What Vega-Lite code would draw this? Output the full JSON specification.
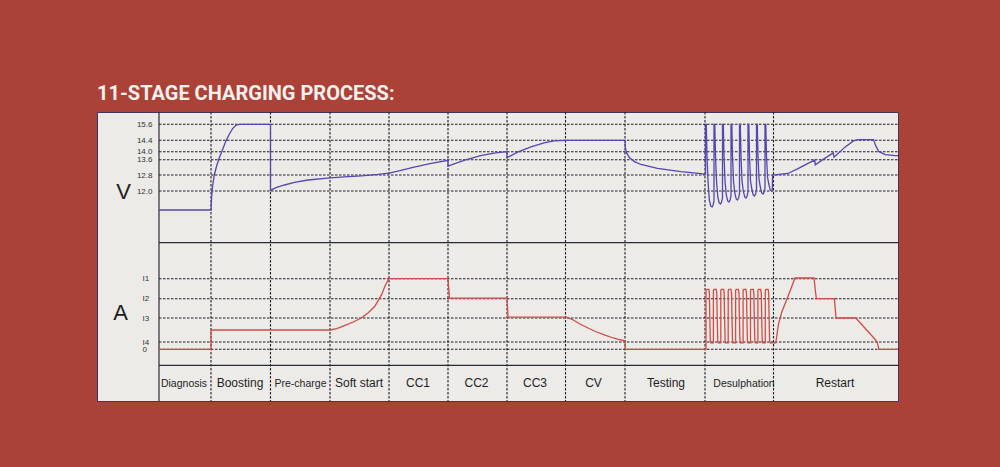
{
  "$schema": "https://vega.github.io/schema/vega-lite/v6.json",
  "width": 801,
  "height": 289,
  "autosize": {"type": "none"},
  "padding": {"left": 97, "top": 112, "right": 102, "bottom": 66},
  "background": "#aa4238",
  "title": {
    "text": "11-STAGE CHARGING PROCESS:",
    "anchor": "start",
    "orient": "top",
    "offset": -9,
    "baseline": "alphabetic",
    "font": "Roboto",
    "fontSize": 20,
    "fontWeight": "bold",
    "color": "#f6f0ee"
  },
  "config": {
    "view": {"fill": "#ecebe8", "stroke": "#3d3566", "strokeWidth": 1},
    "font": "Liberation Sans"
  },
  "datasets": {
    "stages": [
      {"stage": "Diagnosis", "start": 0, "mid": 25},
      {"stage": "Boosting", "start": 52, "mid": 81},
      {"stage": "Pre-charge", "start": 111.5, "mid": 141.5},
      {"stage": "Soft start", "start": 171, "mid": 200},
      {"stage": "CC1", "start": 230, "mid": 259},
      {"stage": "CC2", "start": 289, "mid": 317.5},
      {"stage": "CC3", "start": 348, "mid": 376},
      {"stage": "CV", "start": 406.5, "mid": 434.5},
      {"stage": "Testing", "start": 466, "mid": 507},
      {"stage": "Desulphation", "start": 546, "mid": 585},
      {"stage": "Restart", "start": 614.5, "mid": 676}
    ],
    "vgrid": [{"v": 12.0}, {"v": 12.8}, {"v": 13.6}, {"v": 14.0}, {"v": 14.4}, {"v": 15.6}],
    "agrid": [{"a": 0}, {"a": 1}, {"a": 4}, {"a": 7}, {"a": 10}],
    "voltage": [
      {"t": 0, "v": 11.05}, {"t": 52, "v": 11.05}, {"t": 52.6, "v": 11.7}, {"t": 53.6, "v": 12.25},
      {"t": 55.3, "v": 12.8}, {"t": 57.6, "v": 13.27}, {"t": 60.3, "v": 13.7}, {"t": 63.6, "v": 14.08},
      {"t": 67, "v": 14.38}, {"t": 70.3, "v": 14.85}, {"t": 73.6, "v": 15.28}, {"t": 77, "v": 15.53},
      {"t": 80.5, "v": 15.6}, {"t": 111.5, "v": 15.6},
      {"t": 111.5, "v": 12.03}, {"t": 117, "v": 12.17}, {"t": 125.5, "v": 12.3}, {"t": 135.5, "v": 12.43},
      {"t": 149, "v": 12.55}, {"t": 171, "v": 12.66}, {"t": 189, "v": 12.72}, {"t": 202.5, "v": 12.76},
      {"t": 219, "v": 12.83}, {"t": 230, "v": 12.9},
      {"t": 241, "v": 13.03}, {"t": 254, "v": 13.2}, {"t": 271, "v": 13.4}, {"t": 289, "v": 13.57},
      {"t": 289, "v": 13.27}, {"t": 305, "v": 13.57}, {"t": 321.5, "v": 13.8}, {"t": 335, "v": 13.93}, {"t": 348, "v": 14.0},
      {"t": 348, "v": 13.7}, {"t": 358.5, "v": 13.98}, {"t": 372, "v": 14.17}, {"t": 385, "v": 14.31},
      {"t": 395, "v": 14.38}, {"t": 406.5, "v": 14.4}, {"t": 466, "v": 14.4},
      {"t": 466.3, "v": 14.15}, {"t": 467.5, "v": 13.95}, {"t": 470.5, "v": 13.7}, {"t": 475.5, "v": 13.5},
      {"t": 482, "v": 13.35}, {"t": 498.5, "v": 13.15}, {"t": 522, "v": 12.98}, {"t": 542, "v": 12.87},
      {"t": 546.5, "v": 12.83},
      {"t": 546.5, "v": 15.6}, {"t": 547.3, "v": 15.6}, {"t": 548, "v": 13.8}, {"t": 549, "v": 12.5}, {"t": 550.3, "v": 11.55}, {"t": 551.7, "v": 11.25}, {"t": 553, "v": 11.2}, {"t": 554.1, "v": 11.3}, {"t": 555, "v": 11.5},
      {"t": 555, "v": 15.6}, {"t": 555.8, "v": 15.6}, {"t": 556.5, "v": 13.8}, {"t": 557.5, "v": 12.5}, {"t": 558.8, "v": 11.7}, {"t": 560.2, "v": 11.4}, {"t": 561.5, "v": 11.35}, {"t": 562.6, "v": 11.45}, {"t": 563.5, "v": 11.65},
      {"t": 563.5, "v": 15.6}, {"t": 564.3, "v": 15.6}, {"t": 565, "v": 13.8}, {"t": 566, "v": 12.5}, {"t": 567.3, "v": 11.8}, {"t": 568.7, "v": 11.5}, {"t": 570, "v": 11.45}, {"t": 571.1, "v": 11.55}, {"t": 572, "v": 11.75},
      {"t": 572, "v": 15.6}, {"t": 572.8, "v": 15.6}, {"t": 573.5, "v": 13.8}, {"t": 574.5, "v": 12.5}, {"t": 575.8, "v": 11.9}, {"t": 577.2, "v": 11.6}, {"t": 578.5, "v": 11.55}, {"t": 579.6, "v": 11.65}, {"t": 580.5, "v": 11.85},
      {"t": 580.5, "v": 15.6}, {"t": 581.3, "v": 15.6}, {"t": 582, "v": 13.8}, {"t": 583, "v": 12.5}, {"t": 584.3, "v": 12.0}, {"t": 585.7, "v": 11.7}, {"t": 587, "v": 11.65}, {"t": 588.1, "v": 11.75}, {"t": 589, "v": 11.95},
      {"t": 589, "v": 15.6}, {"t": 589.8, "v": 15.6}, {"t": 590.5, "v": 13.8}, {"t": 591.5, "v": 12.5}, {"t": 592.8, "v": 12.1}, {"t": 594.2, "v": 11.8}, {"t": 595.5, "v": 11.75}, {"t": 596.6, "v": 11.85}, {"t": 597.5, "v": 12.05},
      {"t": 597.5, "v": 15.6}, {"t": 598.3, "v": 15.6}, {"t": 599, "v": 13.8}, {"t": 600, "v": 12.6}, {"t": 601.3, "v": 12.2}, {"t": 602.7, "v": 11.9}, {"t": 604, "v": 11.85}, {"t": 605.1, "v": 11.95}, {"t": 606, "v": 12.15},
      {"t": 606, "v": 15.6}, {"t": 606.8, "v": 15.6}, {"t": 607.5, "v": 13.8}, {"t": 608.5, "v": 12.7}, {"t": 609.8, "v": 12.35}, {"t": 611.2, "v": 12.05}, {"t": 612.5, "v": 12.0}, {"t": 613.3, "v": 12.1}, {"t": 613.6, "v": 12.8},
      {"t": 629, "v": 12.88}, {"t": 639, "v": 13.13}, {"t": 649, "v": 13.41}, {"t": 655.8, "v": 13.58}, {"t": 656.3, "v": 13.33},
      {"t": 666, "v": 13.68}, {"t": 674.3, "v": 13.94}, {"t": 675, "v": 13.72}, {"t": 686, "v": 14.16}, {"t": 694.4, "v": 14.38},
      {"t": 699.5, "v": 14.45}, {"t": 714.6, "v": 14.45}, {"t": 716.3, "v": 14.24}, {"t": 719.6, "v": 14.01},
      {"t": 726.3, "v": 13.85}, {"t": 736.4, "v": 13.8}, {"t": 739, "v": 13.8}
    ],
    "current": [
      {"t": 0, "a": 0}, {"t": 52, "a": 0}, {"t": 52, "a": 2.5}, {"t": 171, "a": 2.5},
      {"t": 177.7, "a": 2.66}, {"t": 186, "a": 3.08}, {"t": 194.3, "a": 3.5}, {"t": 202.7, "a": 4.04},
      {"t": 209.3, "a": 4.83}, {"t": 216, "a": 5.86}, {"t": 222.7, "a": 7.65}, {"t": 226, "a": 8.9},
      {"t": 230, "a": 10.0}, {"t": 289, "a": 10.0}, {"t": 290.5, "a": 7.1}, {"t": 348, "a": 7.1},
      {"t": 349, "a": 4.15}, {"t": 407.5, "a": 4.15}, {"t": 414.3, "a": 3.75}, {"t": 421, "a": 3.25},
      {"t": 429, "a": 2.75}, {"t": 437.7, "a": 2.25}, {"t": 446, "a": 1.85}, {"t": 454.3, "a": 1.5},
      {"t": 461, "a": 1.28}, {"t": 466, "a": 1.15}, {"t": 466.3, "a": 0}, {"t": 547, "a": 0},
      {"t": 547, "a": 8.2}, {"t": 547.5, "a": 8.4}, {"t": 549.8, "a": 8.4}, {"t": 550.4, "a": 7.8}, {"t": 550.8, "a": 4}, {"t": 551.3, "a": 1.2}, {"t": 551.8, "a": 0.9}, {"t": 554.4, "a": 0.9},
      {"t": 554.4, "a": 8.2}, {"t": 554.9, "a": 8.4}, {"t": 557.2, "a": 8.4}, {"t": 557.8, "a": 7.8}, {"t": 558.2, "a": 4}, {"t": 558.7, "a": 1.2}, {"t": 559.2, "a": 0.9}, {"t": 561.8, "a": 0.9},
      {"t": 561.8, "a": 8.2}, {"t": 562.3, "a": 8.4}, {"t": 564.6, "a": 8.4}, {"t": 565.2, "a": 7.8}, {"t": 565.6, "a": 4}, {"t": 566.1, "a": 1.2}, {"t": 566.6, "a": 0.9}, {"t": 569.2, "a": 0.9},
      {"t": 569.2, "a": 8.2}, {"t": 569.7, "a": 8.4}, {"t": 572, "a": 8.4}, {"t": 572.6, "a": 7.8}, {"t": 573, "a": 4}, {"t": 573.5, "a": 1.2}, {"t": 574, "a": 0.9}, {"t": 576.6, "a": 0.9},
      {"t": 576.6, "a": 8.2}, {"t": 577.1, "a": 8.4}, {"t": 579.4, "a": 8.4}, {"t": 580, "a": 7.8}, {"t": 580.4, "a": 4}, {"t": 580.9, "a": 1.2}, {"t": 581.4, "a": 0.9}, {"t": 584.1, "a": 0.9},
      {"t": 584.1, "a": 8.2}, {"t": 584.6, "a": 8.4}, {"t": 586.9, "a": 8.4}, {"t": 587.5, "a": 7.8}, {"t": 587.9, "a": 4}, {"t": 588.4, "a": 1.2}, {"t": 588.9, "a": 0.9}, {"t": 591.5, "a": 0.9},
      {"t": 591.5, "a": 8.2}, {"t": 592, "a": 8.4}, {"t": 594.3, "a": 8.4}, {"t": 594.9, "a": 7.8}, {"t": 595.3, "a": 4}, {"t": 595.8, "a": 1.2}, {"t": 596.3, "a": 0.9}, {"t": 598.9, "a": 0.9},
      {"t": 598.9, "a": 8.2}, {"t": 599.4, "a": 8.4}, {"t": 601.7, "a": 8.4}, {"t": 602.3, "a": 7.8}, {"t": 602.7, "a": 4}, {"t": 603.2, "a": 1.2}, {"t": 603.7, "a": 0.9}, {"t": 606.3, "a": 0.9},
      {"t": 606.3, "a": 8.2}, {"t": 606.8, "a": 8.4}, {"t": 609.1, "a": 8.4}, {"t": 609.7, "a": 7.8}, {"t": 610.1, "a": 4}, {"t": 610.6, "a": 1.2}, {"t": 611.1, "a": 0.9}, {"t": 616.8, "a": 0.9},
      {"t": 619.4, "a": 3.2}, {"t": 622.7, "a": 4.9}, {"t": 627.6, "a": 6.8}, {"t": 632.6, "a": 8.75}, {"t": 635.9, "a": 10.1},
      {"t": 655, "a": 10.1}, {"t": 657.3, "a": 7.0}, {"t": 675.4, "a": 7.0}, {"t": 677, "a": 4.0}, {"t": 696.8, "a": 4.0},
      {"t": 701.8, "a": 3.32}, {"t": 708.3, "a": 2.4}, {"t": 714.9, "a": 1.5}, {"t": 718.2, "a": 1.0},
      {"t": 719.9, "a": 0}, {"t": 739, "a": 0}
    ]
  },
  "layer": [
    {
      "data": {"name": "stages"},
      "transform": [{"filter": "datum.start > 0"}],
      "mark": {"type": "rule", "color": "#1e1e2a", "strokeDash": [2.5, 1.5], "strokeWidth": 1.1},
      "encoding": {
        "x": {"field": "start", "type": "quantitative", "scale": {"domain": [-62, 739], "nice": false, "zero": false}, "axis": null}
      }
    },
    {
      "data": {"values": [{}]},
      "mark": {"type": "rule", "color": "#2a2a35", "strokeWidth": 1.2},
      "encoding": {
        "x": {"datum": 0, "type": "quantitative", "scale": {"domain": [-62, 739], "nice": false, "zero": false}, "axis": null}
      }
    },
    {
      "encoding": {
        "y": {
          "field": "v",
          "type": "quantitative",
          "scale": {"domain": [10, 12, 12.8, 13.6, 14, 14.4, 15.6, 16.5], "range": [119, 79, 63, 47.7, 39.7, 28.3, 12.3, 0], "nice": false, "zero": false},
          "axis": {
            "orient": "left", "offset": -62, "values": [12, 12.8, 13.6, 14, 14.4, 15.6], "format": ".1f",
            "domain": false, "ticks": false, "tickSize": 0, "grid": false, "labelPadding": 7,
            "labelFontSize": 8, "labelColor": "#333333", "labelOverlap": false, "labelFont": "Liberation Sans",
            "title": "V", "titleAngle": 0, "titleX": -36, "titleY": 79, "titleAlign": "center", "titleBaseline": "middle",
            "titleFont": "Liberation Sans", "titleFontSize": 22, "titleFontWeight": "normal", "titleColor": "#1e1e1e"
          }
        }
      },
      "layer": [
        {
          "data": {"name": "vgrid"},
          "mark": {"type": "rule", "color": "#1e1e2a", "strokeDash": [2.5, 1.5], "strokeWidth": 1.1},
          "encoding": {
            "x": {"datum": 0, "type": "quantitative", "scale": {"domain": [-62, 739], "nice": false, "zero": false}, "axis": null},
            "x2": {"datum": 739}
          }
        },
        {
          "data": {"name": "voltage"},
          "mark": {"type": "line", "color": "#5546b0", "strokeWidth": 1.3},
          "encoding": {
            "x": {"field": "t", "type": "quantitative", "scale": {"domain": [-62, 739], "nice": false, "zero": false}, "axis": null}
          }
        }
      ]
    },
    {
      "encoding": {
        "y": {
          "type": "quantitative",
          "scale": {"domain": [-7, -2.3, 0, 1, 4, 7, 10, 15], "range": [286, 253.3, 237.3, 230, 206, 186.7, 166.7, 130.7], "nice": false, "zero": false},
          "axis": {
            "orient": "left", "offset": -62, "values": [0, 1, 4, 7, 10],
            "labelExpr": "datum.value == 0 ? '0' : datum.value == 1 ? 'I4' : datum.value == 4 ? 'I3' : datum.value == 7 ? 'I2' : 'I1'",
            "domain": false, "ticks": false, "tickSize": 0, "grid": false, "labelPadding": 17, "labelAlign": "left",
            "labelFontSize": 8, "labelColor": "#333333", "labelOverlap": false, "labelFont": "Liberation Sans",
            "title": "A", "titleAngle": 0, "titleX": -39, "titleY": 200.7, "titleAlign": "center", "titleBaseline": "middle",
            "titleFont": "Liberation Sans", "titleFontSize": 22, "titleFontWeight": "normal", "titleColor": "#1e1e1e"
          }
        }
      },
      "layer": [
        {
          "data": {"name": "agrid"},
          "mark": {"type": "rule", "color": "#1e1e2a", "strokeDash": [2.5, 1.5], "strokeWidth": 1.1},
          "encoding": {
            "y": {"field": "a"},
            "x": {"datum": 0, "type": "quantitative", "scale": {"domain": [-62, 739], "nice": false, "zero": false}, "axis": null},
            "x2": {"datum": 739}
          }
        },
        {
          "data": {"name": "current"},
          "mark": {"type": "line", "color": "#d24c46", "strokeWidth": 1.3},
          "encoding": {
            "y": {"field": "a"},
            "x": {"field": "t", "type": "quantitative", "scale": {"domain": [-62, 739], "nice": false, "zero": false}, "axis": null}
          }
        },
        {
          "data": {"values": [{"edge": "top", "a": 15}, {"edge": "bottom", "a": -2.3}]},
          "mark": {"type": "rule", "color": "#2a2a35", "strokeWidth": 1.3},
          "encoding": {
            "y": {"field": "a"},
            "x": {"datum": 0, "type": "quantitative", "scale": {"domain": [-62, 739], "nice": false, "zero": false}, "axis": null},
            "x2": {"datum": 739}
          }
        },
        {
          "data": {"name": "stages"},
          "transform": [{"filter": {"field": "stage", "oneOf": ["Diagnosis", "Pre-charge", "Desulphation"]}}],
          "mark": {"type": "text", "font": "Liberation Sans", "fontSize": 10.5, "color": "#1e1e1e", "align": "center", "baseline": "alphabetic"},
          "encoding": {
            "y": {"datum": -5.35},
            "x": {"field": "mid", "type": "quantitative", "scale": {"domain": [-62, 739], "nice": false, "zero": false}, "axis": null},
            "text": {"field": "stage"}
          }
        },
        {
          "data": {"name": "stages"},
          "transform": [{"filter": {"not": {"field": "stage", "oneOf": ["Diagnosis", "Pre-charge", "Desulphation"]}}}],
          "mark": {"type": "text", "font": "Liberation Sans", "fontSize": 12, "color": "#1e1e1e", "align": "center", "baseline": "alphabetic"},
          "encoding": {
            "y": {"datum": -5.35},
            "x": {"field": "mid", "type": "quantitative", "scale": {"domain": [-62, 739], "nice": false, "zero": false}, "axis": null},
            "text": {"field": "stage"}
          }
        }
      ]
    }
  ],
  "resolve": {"scale": {"y": "independent"}}
}
